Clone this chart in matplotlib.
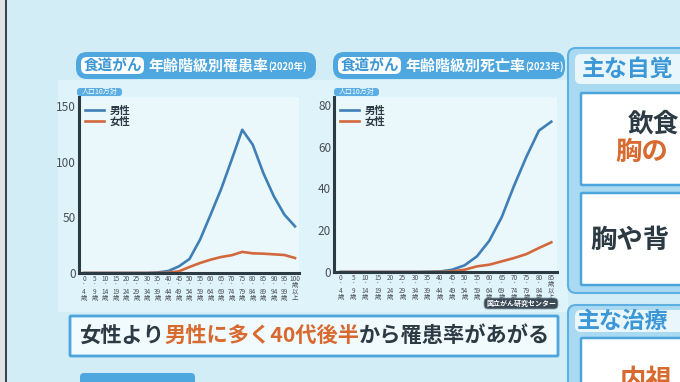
import matplotlib
matplotlib.use("Agg")
import matplotlib.pyplot as plt
from matplotlib.patches import FancyBboxPatch, Rectangle

# --- Polices / couleurs ---
JP = ["Noto Sans CJK JP", "DejaVu Sans"]
plt.rcParams["font.family"] = JP

W, H = 680, 382
BG = "#d3edf7"
PANEL = "#dff3fa"
PLOT_BG = "#eaf8fc"
BAR_BLUE = "#4ea7df"
LABEL_BLUE = "#3b97d6"
LINE_BLUE = "#3f7fb5"
LINE_ORANGE = "#d2683c"
ORANGE_TXT = "#d8692f"
DARK = "#2c3a44"
TICK_TXT = "#4a4f55"

# --- Donnees : taux de morbidite 2020 (pour 100 000) ---
INC_LABELS = [
    "0\n·\n4\n歳", "5\n·\n9\n歳", "10\n·\n14\n歳", "15\n·\n19\n歳", "20\n·\n24\n歳",
    "25\n·\n29\n歳", "30\n·\n34\n歳", "35\n·\n39\n歳", "40\n·\n44\n歳", "45\n·\n49\n歳",
    "50\n·\n54\n歳", "55\n·\n59\n歳", "60\n·\n64\n歳", "65\n·\n69\n歳", "70\n·\n74\n歳",
    "75\n·\n79\n歳", "80\n·\n84\n歳", "85\n·\n89\n歳", "90\n·\n94\n歳", "95\n·\n99\n歳",
    "100\n歳\n以\n上",
]
INC_MALE = [0, 0, 0, 0, 0, 0, 0, 0.5, 1.8, 6, 12.6, 30, 52.5, 75.6, 102, 129,
            115.5, 90, 69, 52.5, 42]
INC_FEMALE = [0, 0, 0, 0, 0, 0, 0, 0.1, 0.3, 1.5, 5.4, 9, 12, 14.4, 16, 19,
              17.7, 17.4, 16.8, 16.2, 13.5]
INC_YTICKS = [0, 50, 100, 150]

# --- Donnees : taux de mortalite 2023 (pour 100 000) ---
MORT_LABELS = [
    "0\n·\n4\n歳", "5\n·\n9\n歳", "10\n·\n14\n歳", "15\n·\n19\n歳", "20\n·\n24\n歳",
    "25\n·\n29\n歳", "30\n·\n34\n歳", "35\n·\n39\n歳", "40\n·\n44\n歳", "45\n·\n49\n歳",
    "50\n·\n54\n歳", "55\n·\n59\n歳", "60\n·\n64\n歳", "65\n·\n69\n歳", "70\n·\n74\n歳",
    "75\n·\n79\n歳", "80\n·\n84\n歳", "85\n歳\n以\n上",
]
MORT_MALE = [0, 0, 0, 0, 0, 0, 0, 0.1, 0.2, 1.1, 3.2, 7.5, 15, 26.3, 41.4, 55.3,
             67.7, 72]
MORT_FEMALE = [0, 0, 0, 0, 0, 0, 0, 0, 0.1, 0.3, 1.1, 2.7, 3.5, 5.1, 6.7, 8.6,
               11.5, 14.2]
MORT_YTICKS = [0, 20, 40, 60, 80]


fig = plt.figure(figsize=(W / 100, H / 100), dpi=100)
fig.patch.set_facecolor(BG)
bg = fig.add_axes([0, 0, 1, 1])
bg.set_xlim(0, W)
bg.set_ylim(H, 0)
bg.axis("off")
bg.set_zorder(0)


def rbox(x, y, w, h, fc, ec="none", lw=0, r=4, z=1):
    bg.add_patch(FancyBboxPatch((x, y), w, h,
                                boxstyle=f"round,pad=0,rounding_size={r}",
                                fc=fc, ec=ec, lw=lw, zorder=z))


def px_axes(x0, y0, x1, y1):
    ax = fig.add_axes([x0 / W, 1 - y1 / H, (x1 - x0) / W, (y1 - y0) / H])
    ax.set_zorder(2)
    return ax


def draw_title(x, w, rate, year):
    """Bandeau bleu du titre"""
    rbox(x, 52, w, 27, BAR_BLUE, r=11, z=2)
    rbox(x + 5, 57, 63, 17, "white", r=6, z=3)
    bg.text(x + 36.5, 65.5, "食道がん", fontsize=10.5, fontweight="bold",
            color=LABEL_BLUE, ha="center", va="center", zorder=4)
    t = bg.text(x + 72, 66, f"年齢階級別{rate}", fontsize=10.8, fontweight="bold",
                color="white", ha="left", va="center", zorder=4)
    bg.annotate(f"({year}年)", xy=(1, 0.12), xycoords=t, fontsize=6.8,
                fontweight="bold", color="white", ha="left", va="bottom", zorder=4)
    # unite
    rbox(x + 1, 88, 45, 8, "#5aaee3", r=3, z=2)
    bg.text(x + 23.5, 92, "人口10万対", fontsize=5, color="white",
            ha="center", va="center", zorder=3)


def draw_chart(ax, labels, male, female, yticks, xlim, ylim):
    x = list(range(len(labels)))
    ax.set_facecolor(PLOT_BG)
    ax.plot(x, male, color=LINE_BLUE, lw=1.9, label="男性")
    ax.plot(x, female, color=LINE_ORANGE, lw=1.9, label="女性")
    ax.set_xlim(*xlim)
    ax.set_ylim(*ylim)
    ax.set_yticks(yticks)
    ax.set_xticks(x)
    ax.set_xticklabels(labels, fontsize=4.6, linespacing=0.72, color=TICK_TXT)
    for lab in ax.get_yticklabels():
        lab.set_fontsize(8.5)
        lab.set_color(TICK_TXT)
    for s in ["top", "right"]:
        ax.spines[s].set_visible(False)
    for s in ["left", "bottom"]:
        ax.spines[s].set_linewidth(2.2)
        ax.spines[s].set_color(DARK)
    ax.tick_params(axis="both", length=0)
    ax.tick_params(axis="x", pad=1.5)
    ax.tick_params(axis="y", pad=2)
    leg = ax.legend(loc="upper left", bbox_to_anchor=(0.025, 0.95), frameon=False,
                    fontsize=7.5, handlelength=1.9, handletextpad=0.5,
                    labelspacing=0.05, borderpad=0, borderaxespad=0)
    for t in leg.get_texts():
        t.set_fontweight("bold")
        t.set_color(DARK)


# --- Fond ---
bg.add_patch(Rectangle((0, 0), W, H, fc=BG, ec="none", zorder=0))
bg.add_patch(Rectangle((58, 80), 510, 232, fc=PANEL, ec="none", zorder=0.5))
bg.add_patch(Rectangle((0, 0), 5, H, fc="#dfe3e6", ec="none", zorder=5))
bg.add_patch(Rectangle((5, 0), 2, H, fc="#3a444c", ec="none", zorder=5))

# --- Graphiques ---
draw_title(76, 240, "罹患率", 2020)
draw_title(333, 232, "死亡率", 2023)

ax1 = px_axes(79, 97, 299, 273)
draw_chart(ax1, INC_LABELS, INC_MALE, INC_FEMALE, INC_YTICKS,
           (-0.47, 20.38), (0, 158.5))

ax2 = px_axes(334, 97, 557, 272)
draw_chart(ax2, MORT_LABELS, MORT_MALE, MORT_FEMALE, MORT_YTICKS,
           (-0.54, 17.46), (0, 83.8))

# source
rbox(484, 298, 74, 11, "#3b4a57", ec="#8fa3b1", lw=0.6, r=4, z=3)
bg.text(521, 303.5, "国立がん研究センター", fontsize=5, fontweight="bold",
        color="white", ha="center", va="center", zorder=4)

# --- Legende principale ---
rbox(70, 316, 488, 40, "#f1fafd", ec="#4ca5dc", lw=2, r=1, z=2)
t = bg.text(79, 336, "女性より", fontsize=15.3, fontweight="bold", color=DARK,
            ha="left", va="center", zorder=3)
for s, c in [("男性に多く40代後半", ORANGE_TXT), ("から罹患率があがる", DARK)]:
    t = bg.annotate(s, xy=(1, 0), xycoords=t, fontsize=15.3, fontweight="bold",
                    color=c, ha="left", va="bottom", zorder=3)

# onglet du bas (coupe)
rbox(80, 373, 115, 20, BAR_BLUE, r=4, z=2)

# --- Panneau de droite (coupe) ---
rbox(568, 48, 130, 245, "#a9daf2", ec="#5fb0e2", lw=1.5, r=8, z=1)
rbox(575, 54, 120, 30, "#e9f6fc", r=6, z=2)
bg.text(582, 69, "主な自覚", fontsize=16.5, fontweight="bold", color=LABEL_BLUE,
        ha="left", va="center", zorder=3)
rbox(581, 93, 110, 92, "white", ec="#4ca5dc", lw=1.8, r=1, z=2)
bg.text(628, 124, "飲食", fontsize=18.5, fontweight="bold", color=DARK,
        ha="left", va="center", zorder=3)
bg.text(615, 152, "胸の", fontsize=19, fontweight="bold", color=ORANGE_TXT,
        ha="left", va="center", zorder=3)
rbox(581, 193, 110, 92, "white", ec="#4ca5dc", lw=1.8, r=1, z=2)
bg.text(590, 240, "胸や背", fontsize=19, fontweight="bold", color=DARK,
        ha="left", va="center", zorder=3)

rbox(568, 305, 130, 100, "#a9daf2", ec="#5fb0e2", lw=1.5, r=8, z=1)
rbox(575, 310, 120, 22, "#e9f6fc", r=6, z=2)
bg.text(577, 321, "主な治療", fontsize=16.5, fontweight="bold", color=LABEL_BLUE,
        ha="left", va="center", zorder=3)
rbox(581, 338, 110, 60, "white", ec="#4ca5dc", lw=1.8, r=1, z=2)
bg.text(620, 380, "内視", fontsize=19, fontweight="bold", color=ORANGE_TXT,
        ha="left", va="center", zorder=3)

fig.savefig("out.png", dpi=100, facecolor=BG)
